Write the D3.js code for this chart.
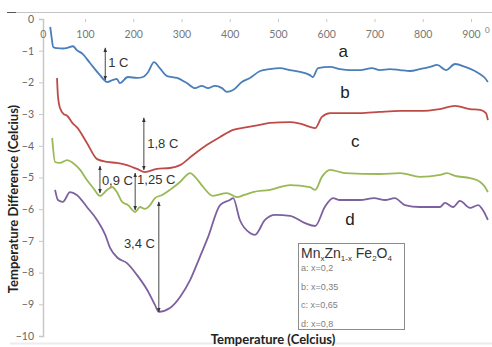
<!DOCTYPE html>
<html>
<head>
<meta charset="utf-8">
<script src="https://cdn.jsdelivr.net/npm/d3@7"></script>
<style>
  body { margin: 0; background: #fff; }
  svg { display: block; }
</style>
</head>
<body>
<svg id="chart" width="492" height="347"></svg>
<script>
// series: [temperature, temperature difference]
const seriesA = [[28,-0.25],[31,-0.6],[34,-0.88],[42,-0.92],[55,-0.93],[63,-0.91],[75,-0.86],[83,-0.98],[95,-1.1],[110,-1.38],[131,-1.77],[146,-1.99],[158,-1.92],[166,-1.89],[172,-2.02],[189,-1.83],[208,-1.86],[220,-1.83],[231,-1.67],[243,-1.36],[255,-1.55],[270,-1.8],[291,-1.86],[311,-2.02],[328,-2.18],[342,-2.11],[355,-2.18],[369,-2.11],[384,-2.18],[394,-2.3],[407,-2.24],[425,-1.99],[442,-1.86],[463,-1.64],[483,-1.58],[504,-1.55],[525,-1.61],[546,-1.67],[566,-1.77],[572,-1.83],[583,-1.55],[608,-1.51],[629,-1.58],[649,-1.61],[670,-1.61],[695,-1.55],[711,-1.61],[732,-1.58],[753,-1.61],[774,-1.64],[794,-1.58],[815,-1.51],[830,-1.45],[848,-1.61],[867,-1.42],[888,-1.51],[908,-1.64],[919,-1.74],[929,-1.86],[935,-1.99]];
const seriesB = [[42,-1.86],[44,-2.45],[48,-2.8],[56,-3.0],[63,-3.05],[75,-3.3],[83,-3.41],[104,-3.91],[125,-4.42],[146,-4.51],[166,-4.54],[187,-4.61],[208,-4.73],[224,-4.83],[249,-4.73],[276,-4.7],[297,-4.61],[324,-4.29],[353,-3.97],[380,-3.72],[407,-3.5],[436,-3.41],[462,-3.34],[483,-3.28],[525,-3.25],[546,-3.3],[577,-3.44],[591,-3.09],[608,-2.97],[629,-2.97],[670,-2.97],[711,-2.93],[753,-2.9],[794,-2.9],[835,-2.84],[867,-2.74],[898,-2.84],[919,-2.87],[931,-2.97],[935,-3.19]];
const seriesC = [[32,-3.75],[38,-4.51],[48,-4.54],[63,-4.45],[75,-4.54],[90,-4.76],[104,-5.08],[117,-5.33],[131,-5.58],[146,-5.39],[156,-5.3],[166,-5.46],[177,-5.77],[189,-5.87],[204,-6.09],[214,-5.93],[224,-5.99],[235,-5.87],[245,-5.65],[260,-5.55],[276,-5.39],[297,-5.14],[318,-4.86],[328,-4.98],[345,-5.3],[365,-5.58],[394,-5.49],[415,-5.62],[430,-5.55],[448,-5.46],[483,-5.39],[525,-5.24],[566,-5.3],[577,-5.39],[591,-4.98],[608,-4.76],[639,-4.86],[711,-4.89],[753,-4.86],[794,-4.98],[836,-4.92],[850,-4.86],[867,-4.95],[898,-5.02],[919,-5.14],[929,-5.3],[935,-5.46]];
const seriesD = [[38,-5.39],[44,-5.71],[54,-5.77],[69,-5.46],[83,-5.55],[104,-5.93],[125,-6.34],[142,-6.81],[152,-7.22],[168,-7.54],[187,-7.7],[208,-8.08],[229,-8.55],[245,-9.02],[253,-9.24],[276,-9.12],[297,-8.77],[318,-8.23],[338,-7.51],[355,-6.88],[380,-5.87],[400,-5.71],[407,-5.65],[421,-6.34],[442,-6.75],[452,-6.81],[473,-6.34],[494,-6.18],[525,-6.21],[556,-6.44],[577,-6.53],[597,-5.93],[614,-5.65],[628,-5.71],[670,-5.71],[699,-5.65],[722,-5.71],[742,-5.65],[763,-5.87],[794,-5.93],[836,-5.93],[846,-5.8],[863,-5.93],[877,-5.74],[898,-5.96],[915,-5.87],[927,-6.09],[935,-6.34]];

const seriesNames = ["a", "b", "c", "d"];
const seriesColors = ["#4a7ebb", "#be4b48", "#98b954", "#7d60a0"];
// where each series letter sits [temperature, difference]
const nameSpots = [[635,-1.2],[639,-2.49],[660,-4.04],[649,-6.5]];

const xTicks = [0, 100, 200, 300, 400, 500, 600, 700, 800, 900];
const yTicks = [0, -1, -2, -3, -4, -5, -6, -7, -8, -9, -10];

// peak depth annotations: arrow at temperature t from v1 to v2
const annotations = [
  { text: "1 C",    t: 142, v1: -0.91, v2: -1.92, tx: 148, ty: -1.51, anchor: "start" },
  { text: "1,8 C",  t: 222, v1: -3.12, v2: -4.76, tx: 229, ty: -4.07, anchor: "start" },
  { text: "0,9 C",  t: 131, v1: -4.64, v2: -5.49, tx: 135, ty: -5.24, anchor: "start" },
  { text: "1,25 C", t: 204, v1: -4.86, v2: -6.03, tx: 208, ty: -5.2,  anchor: "start" },
  { text: "3,4 C",  t: 253, v1: -5.77, v2: -9.24, tx: 245, ty: -7.22, anchor: "end" }
];

const legendTitle = [["Mn",false],["x",true],["Zn",false],["1-x",true],[" Fe",false],["2",true],["O",false],["4",true]];
const legendItems = ["a: x=0,2", "b: x=0,35", "c: x=0,65", "d: x=0,8"];

const svg = d3.select("#chart");

const x = d3.scaleLinear().domain([0, 900]).range([36.75, 471]);
const y = d3.scaleLinear().domain([0, -10]).range([19, 336]);
const axisX = 43;

// frame lines
svg.append("line").attr("x1", 7).attr("x2", 492).attr("y1", 12.5).attr("y2", 12.5)
  .attr("stroke", "#c4c4c4").attr("stroke-width", 1);
svg.append("line").attr("x1", 7).attr("x2", 16).attr("y1", 12.5).attr("y2", 12.5)
  .attr("stroke", "#555").attr("stroke-width", 1);
svg.append("line").attr("x1", 10).attr("x2", 492).attr("y1", 343.5).attr("y2", 343.5)
  .attr("stroke", "#ececec").attr("stroke-width", 2);

// y axis
const gy = svg.append("g")
  .attr("transform", `translate(${axisX},0)`)
  .call(d3.axisLeft(y).tickValues(yTicks).tickSize(4).tickPadding(5).tickFormat(d3.format("d")));
gy.select(".domain").attr("stroke", "#c8c8c8").attr("stroke-width", 1.5);
gy.selectAll(".tick line").attr("stroke", "#c8c8c8");
gy.selectAll(".tick text").attr("fill", "#666").attr("font-family", "Lato, 'Open Sans', sans-serif").attr("font-size", 10.5);

// x axis (labels hang below the zero line)
const gx = svg.append("g")
  .attr("transform", `translate(0,${y(0)})`)
  .call(d3.axisBottom(x).tickValues(xTicks).tickSize(3).tickPadding(9).tickFormat(d3.format("d")));
gx.select(".domain").remove();
gx.selectAll(".tick line").attr("stroke", "#c8c8c8");
gx.selectAll(".tick text").attr("fill", "#777").attr("font-family", "Lato, 'Open Sans', sans-serif").attr("font-size", 10.5)
  .attr("dx", d => d === 0 ? 6 : 0);
gx.selectAll(".tick").filter(d => d === 0).select("line").remove();
svg.append("text").attr("x", 485).attr("y", 33).attr("fill", "#777")
  .attr("font-family", "Lato, sans-serif").attr("font-size", 8).text("0");

// series lines
const line = d3.line().x(d => x(d[0])).y(d => y(d[1])).curve(d3.curveMonotoneX);
[seriesA, seriesB, seriesC, seriesD].forEach((s, i) => {
  svg.append("path").datum(s)
    .attr("d", line)
    .attr("fill", "none")
    .attr("stroke", seriesColors[i])
    .attr("stroke-width", 1.8)
    .attr("stroke-linejoin", "round");
});

// series letters
svg.selectAll("text.name")
  .data(seriesNames)
  .join("text")
    .attr("class", "name")
    .attr("x", (d, i) => x(nameSpots[i][0]))
    .attr("y", (d, i) => y(nameSpots[i][1]))
    .attr("text-anchor", "middle")
    .attr("font-family", "'Liberation Sans', Arial, sans-serif")
    .attr("font-size", 17)
    .attr("fill", "#222")
    .text(d => d);

// arrows
const defs = svg.append("defs");
defs.append("marker").attr("id", "head")
  .attr("viewBox", "0 0 10 10").attr("refX", 9).attr("refY", 5)
  .attr("markerWidth", 5).attr("markerHeight", 5).attr("orient", "auto-start-reverse")
  .append("path").attr("d", "M0,1 L10,5 L0,9 Z").attr("fill", "#333");

annotations.forEach(a => {
  svg.append("line")
    .attr("x1", x(a.t)).attr("x2", x(a.t))
    .attr("y1", y(a.v1)).attr("y2", y(a.v2))
    .attr("stroke", "#333").attr("stroke-width", 0.9)
    .attr("marker-start", "url(#head)").attr("marker-end", "url(#head)");
  svg.append("text")
    .attr("x", x(a.tx)).attr("y", y(a.ty))
    .attr("text-anchor", a.anchor)
    .attr("font-family", "'Liberation Sans', Arial, sans-serif")
    .attr("font-size", 13)
    .attr("fill", "#333")
    .text(a.text);
});

// legend box
const lg = svg.append("g").attr("transform", "translate(298,243)");
lg.append("rect").attr("x", 0.5).attr("y", 0.5).attr("width", 106).attr("height", 86)
  .attr("fill", "#fff").attr("stroke", "#8c8c8c");
const title = lg.append("text").attr("x", 3).attr("y", 15)
  .attr("font-family", "'Liberation Sans', Arial, sans-serif").attr("fill", "#333");
legendTitle.forEach(([t, sub], i) => {
  const prevSub = i > 0 && legendTitle[i - 1][1];
  title.append("tspan")
    .attr("font-size", sub ? 8 : 14)
    .attr("dy", sub && !prevSub ? 3 : (!sub && prevSub ? -3 : 0))
    .text(t);
});
lg.selectAll("text.item")
  .data(legendItems)
  .join("text")
    .attr("class", "item")
    .attr("x", 3)
    .attr("y", (d, i) => 28 + i * 18.7)
    .attr("font-family", "'Liberation Sans', Arial, sans-serif")
    .attr("font-size", 9)
    .attr("fill", "#808080")
    .text(d => d);

// axis titles
svg.append("text")
  .attr("x", 273).attr("y", 344)
  .attr("text-anchor", "middle")
  .attr("font-family", "Lato, 'Open Sans', sans-serif")
  .attr("font-weight", "bold").attr("font-size", 13).attr("fill", "#222")
  .text("Temperature (Celcius)");
svg.append("text")
  .attr("transform", "translate(18,199) rotate(-90)")
  .attr("text-anchor", "middle")
  .attr("font-family", "Lato, 'Open Sans', sans-serif")
  .attr("font-weight", "bold").attr("font-size", 13).attr("fill", "#222")
  .text("Temperature Difference (Celcius)");
</script>
</body>
</html>
